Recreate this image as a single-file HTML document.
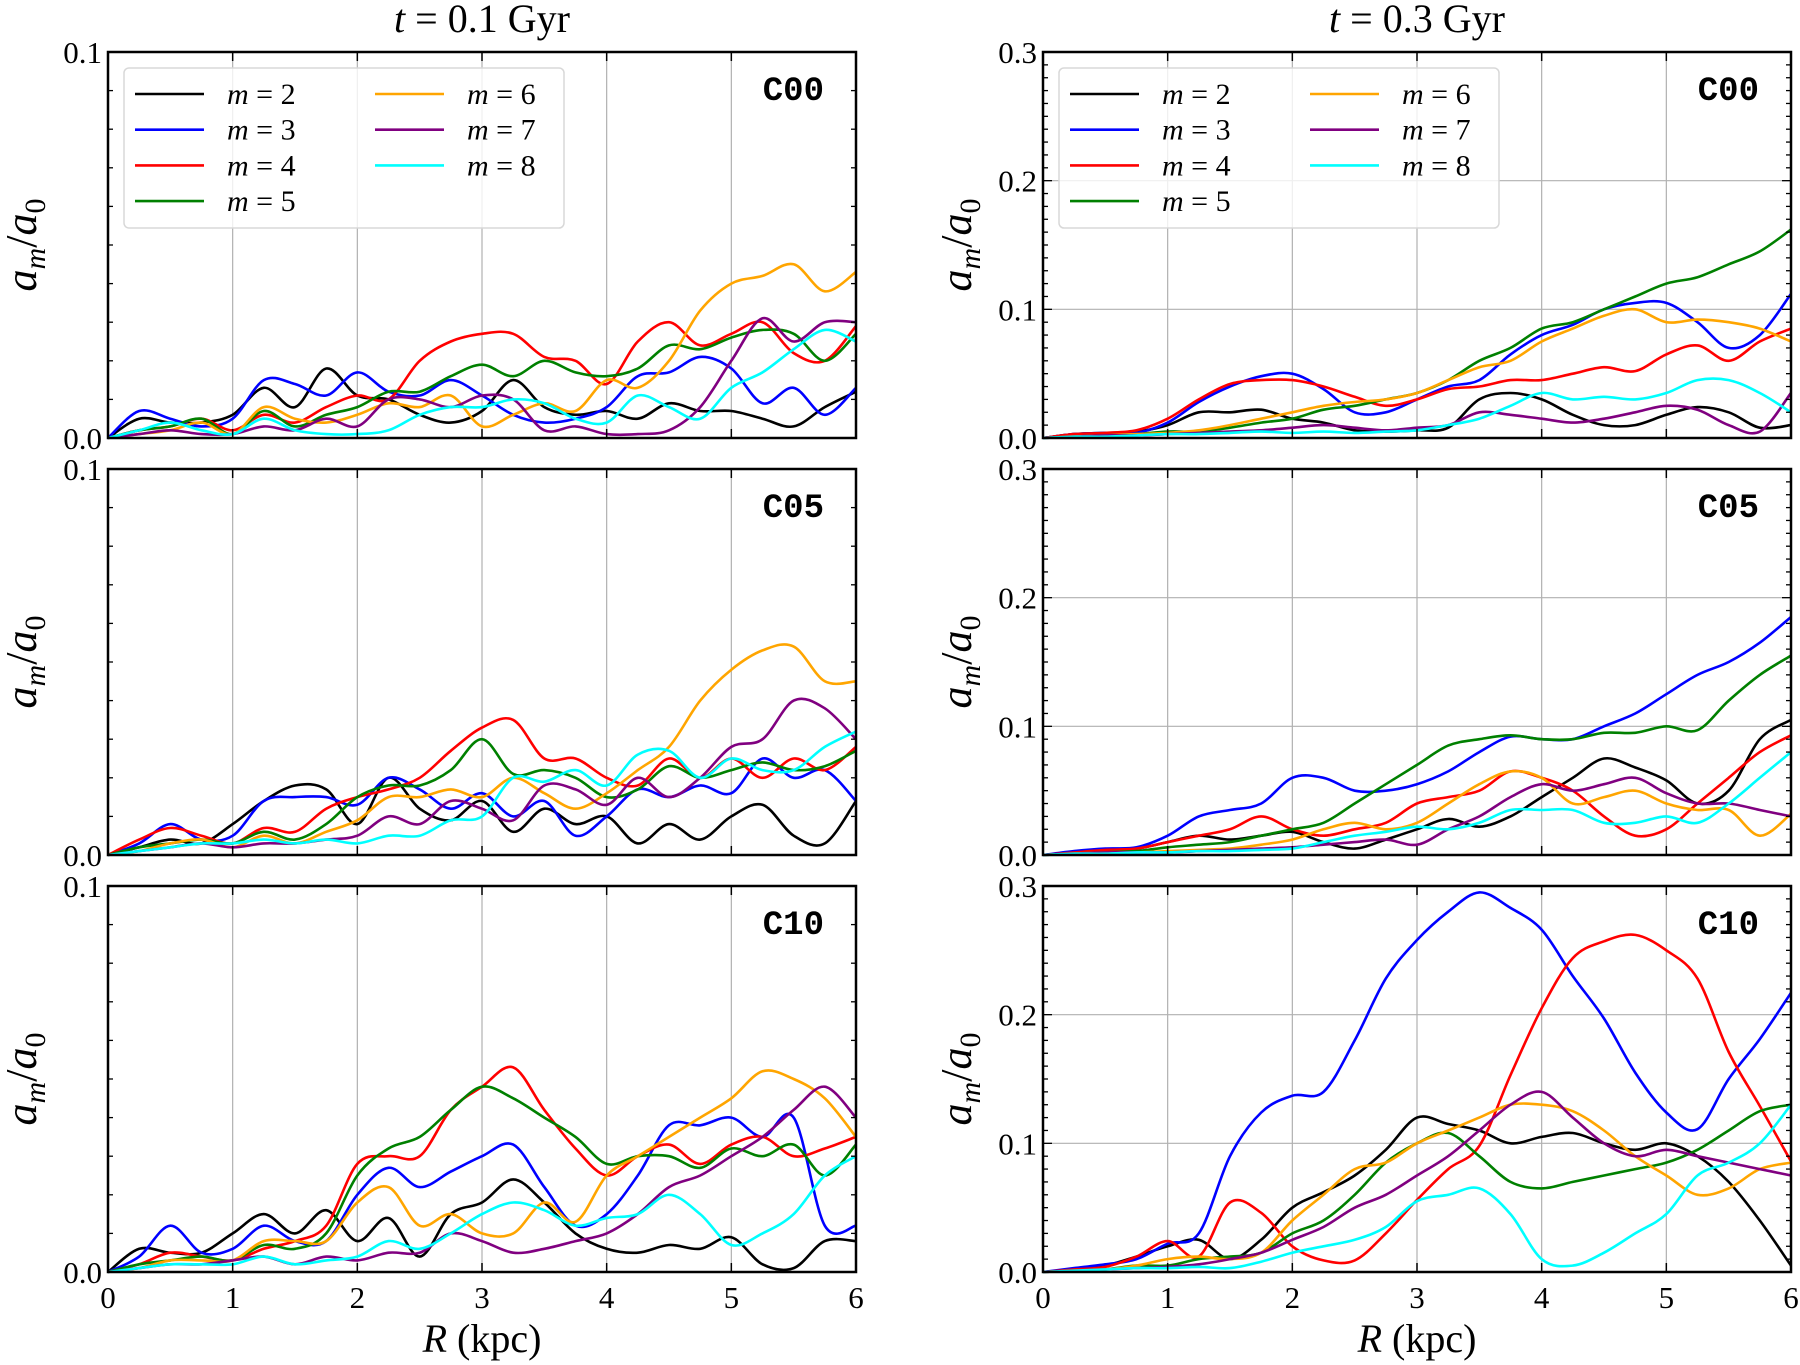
<!DOCTYPE html>
<html><head><meta charset="utf-8"><style>
html,body{margin:0;padding:0;background:#fff}
svg{display:block}
text{font-family:"Liberation Serif",serif}
</style></head><body>
<svg id="fig" width="1800" height="1365" viewBox="0 0 1800 1365" xmlns="http://www.w3.org/2000/svg"></svg>
<script>
const xs = [0,0.25,0.5,0.75,1,1.25,1.5,1.75,2,2.25,2.5,2.75,3,3.25,3.5,3.75,4,4.25,4.5,4.75,5,5.25,5.5,5.75,6];
const modes = ["2","3","4","5","6","7","8"];
const colors = ["#000000","#0000ff","#ff0000","#008000","#ffa500","#800080","#00ffff"];
const panelLabels = ["C00","C05","C10"];
const times = ["0.1","0.3"];
const ymaxLeft = 0.1, ymaxRight = 0.3;
const leftYTicks = ["0.0","0.1"];
const rightYTicks = ["0.0","0.1","0.2","0.3"];
const xTicks = [0,1,2,3,4,5,6];

const L1 = [
[0,0.005,0.004,0.004,0.006,0.013,0.008,0.018,0.011,0.01,0.006,0.004,0.007,0.015,0.008,0.006,0.007,0.005,0.009,0.007,0.007,0.005,0.003,0.008,0.012],
[0,0.007,0.005,0.003,0.005,0.015,0.014,0.011,0.017,0.012,0.011,0.015,0.011,0.006,0.004,0.005,0.008,0.016,0.017,0.021,0.018,0.009,0.013,0.006,0.013],
[0,0.002,0.003,0.005,0.002,0.006,0.004,0.008,0.011,0.01,0.02,0.025,0.027,0.027,0.021,0.02,0.014,0.025,0.03,0.024,0.027,0.03,0.022,0.02,0.029],
[0,0.002,0.003,0.005,0.001,0.007,0.003,0.006,0.008,0.012,0.012,0.016,0.019,0.016,0.02,0.017,0.016,0.018,0.024,0.023,0.026,0.028,0.027,0.02,0.027],
[0,0.001,0.002,0.004,0.001,0.008,0.005,0.004,0.006,0.009,0.008,0.011,0.003,0.006,0.009,0.007,0.015,0.013,0.02,0.033,0.04,0.042,0.045,0.038,0.043],
[0,0.001,0.002,0.001,0.001,0.003,0.002,0.005,0.003,0.01,0.01,0.008,0.011,0.01,0.002,0.003,0.001,0.001,0.002,0.008,0.02,0.031,0.025,0.03,0.03],
[0,0.002,0.004,0.002,0.001,0.005,0.002,0.001,0.001,0.002,0.006,0.008,0.008,0.01,0.009,0.005,0.004,0.011,0.008,0.005,0.013,0.017,0.023,0.028,0.025]];
const L2 = [
[0,0.002,0.004,0.003,0.008,0.014,0.018,0.017,0.008,0.02,0.012,0.009,0.014,0.006,0.012,0.008,0.01,0.003,0.008,0.004,0.01,0.013,0.005,0.003,0.014],
[0,0.003,0.008,0.004,0.005,0.014,0.015,0.015,0.013,0.02,0.017,0.012,0.016,0.01,0.014,0.005,0.01,0.017,0.015,0.018,0.016,0.025,0.02,0.022,0.014],
[0,0.004,0.007,0.005,0.003,0.007,0.006,0.012,0.015,0.017,0.02,0.027,0.033,0.035,0.025,0.025,0.02,0.018,0.025,0.02,0.025,0.02,0.025,0.022,0.028],
[0,0.002,0.003,0.004,0.003,0.006,0.004,0.008,0.015,0.018,0.018,0.022,0.03,0.021,0.022,0.02,0.015,0.017,0.023,0.02,0.022,0.024,0.022,0.023,0.027],
[0,0.001,0.003,0.004,0.002,0.005,0.003,0.006,0.009,0.015,0.015,0.017,0.015,0.02,0.016,0.012,0.016,0.022,0.028,0.04,0.048,0.053,0.054,0.045,0.045],
[0,0.001,0.002,0.003,0.002,0.003,0.003,0.004,0.005,0.01,0.008,0.014,0.012,0.009,0.018,0.017,0.013,0.02,0.015,0.02,0.028,0.03,0.04,0.038,0.03],
[0,0.001,0.002,0.003,0.003,0.004,0.003,0.004,0.003,0.005,0.005,0.009,0.01,0.02,0.019,0.022,0.018,0.026,0.027,0.02,0.025,0.022,0.022,0.028,0.032]];
const L3 = [
[0,0.006,0.005,0.005,0.01,0.015,0.01,0.016,0.008,0.014,0.004,0.015,0.018,0.024,0.018,0.01,0.006,0.005,0.007,0.006,0.009,0.002,0.001,0.008,0.008],
[0,0.004,0.012,0.005,0.006,0.012,0.008,0.008,0.02,0.027,0.022,0.026,0.03,0.033,0.022,0.012,0.015,0.025,0.038,0.038,0.04,0.035,0.04,0.012,0.012],
[0,0.002,0.005,0.004,0.003,0.006,0.008,0.012,0.028,0.03,0.03,0.042,0.048,0.053,0.042,0.032,0.025,0.03,0.033,0.028,0.033,0.035,0.03,0.032,0.035],
[0,0.002,0.003,0.004,0.003,0.007,0.006,0.01,0.025,0.032,0.035,0.042,0.048,0.045,0.04,0.035,0.028,0.03,0.03,0.027,0.032,0.03,0.033,0.025,0.033],
[0,0.001,0.003,0.003,0.003,0.008,0.008,0.008,0.018,0.022,0.012,0.015,0.01,0.01,0.018,0.013,0.025,0.03,0.035,0.04,0.045,0.052,0.05,0.045,0.035],
[0,0.001,0.002,0.002,0.003,0.004,0.002,0.004,0.003,0.005,0.005,0.01,0.008,0.005,0.006,0.008,0.01,0.015,0.022,0.025,0.03,0.035,0.042,0.048,0.04],
[0,0.001,0.002,0.002,0.002,0.004,0.002,0.003,0.004,0.008,0.006,0.01,0.015,0.018,0.016,0.012,0.014,0.015,0.02,0.015,0.007,0.01,0.015,0.025,0.03]];
const R1 = [
[0,0.003,0.004,0.005,0.01,0.02,0.02,0.022,0.015,0.012,0.006,0.005,0.006,0.008,0.03,0.035,0.03,0.018,0.01,0.01,0.018,0.024,0.02,0.008,0.01],
[0,0.003,0.004,0.004,0.012,0.028,0.04,0.048,0.05,0.038,0.02,0.02,0.03,0.04,0.045,0.065,0.08,0.088,0.1,0.105,0.105,0.09,0.07,0.08,0.112],
[0,0.003,0.004,0.006,0.015,0.03,0.042,0.045,0.045,0.04,0.032,0.025,0.03,0.038,0.04,0.045,0.045,0.05,0.055,0.052,0.065,0.072,0.06,0.075,0.085],
[0,0.001,0.002,0.003,0.005,0.005,0.008,0.012,0.015,0.022,0.025,0.03,0.035,0.045,0.06,0.07,0.085,0.09,0.1,0.11,0.12,0.125,0.135,0.145,0.162],
[0,0.001,0.002,0.003,0.004,0.006,0.01,0.015,0.02,0.025,0.028,0.03,0.035,0.045,0.055,0.06,0.075,0.085,0.095,0.1,0.09,0.092,0.09,0.085,0.075],
[0,0.001,0.002,0.002,0.003,0.004,0.005,0.006,0.008,0.01,0.008,0.006,0.008,0.01,0.02,0.018,0.015,0.012,0.015,0.02,0.025,0.022,0.01,0.005,0.035],
[0,0.001,0.001,0.002,0.003,0.003,0.004,0.005,0.004,0.005,0.004,0.005,0.006,0.01,0.015,0.025,0.035,0.03,0.032,0.03,0.035,0.045,0.045,0.035,0.02]];
const R2 = [
[0,0.002,0.004,0.005,0.01,0.015,0.012,0.015,0.018,0.01,0.005,0.012,0.02,0.028,0.022,0.03,0.045,0.06,0.075,0.068,0.058,0.04,0.05,0.09,0.105],
[0,0.003,0.005,0.006,0.015,0.03,0.035,0.04,0.06,0.06,0.05,0.05,0.055,0.065,0.08,0.092,0.09,0.09,0.1,0.11,0.125,0.14,0.15,0.165,0.185],
[0,0.002,0.004,0.005,0.01,0.015,0.02,0.03,0.02,0.015,0.02,0.025,0.04,0.045,0.05,0.065,0.06,0.05,0.03,0.015,0.02,0.04,0.06,0.08,0.093],
[0,0.001,0.002,0.003,0.006,0.008,0.01,0.015,0.02,0.025,0.04,0.055,0.07,0.085,0.09,0.093,0.09,0.09,0.095,0.095,0.1,0.097,0.12,0.14,0.155],
[0,0.001,0.002,0.002,0.003,0.004,0.005,0.008,0.012,0.02,0.025,0.02,0.025,0.04,0.055,0.065,0.06,0.04,0.045,0.05,0.04,0.035,0.035,0.015,0.032],
[0,0.001,0.002,0.002,0.002,0.003,0.004,0.005,0.006,0.008,0.01,0.012,0.008,0.02,0.03,0.045,0.055,0.05,0.055,0.06,0.048,0.04,0.04,0.035,0.03],
[0,0.001,0.001,0.002,0.002,0.003,0.003,0.004,0.005,0.01,0.015,0.018,0.022,0.02,0.025,0.035,0.035,0.035,0.025,0.025,0.03,0.025,0.04,0.06,0.08]];
const R3 = [
[0,0.002,0.005,0.012,0.02,0.025,0.01,0.025,0.05,0.062,0.075,0.095,0.12,0.115,0.11,0.1,0.105,0.108,0.1,0.095,0.1,0.09,0.07,0.04,0.005],
[0,0.003,0.006,0.01,0.022,0.03,0.09,0.124,0.137,0.14,0.18,0.228,0.258,0.28,0.295,0.283,0.266,0.23,0.197,0.155,0.124,0.111,0.15,0.181,0.217],
[0,0.002,0.004,0.012,0.024,0.012,0.054,0.046,0.02,0.009,0.009,0.03,0.056,0.08,0.098,0.153,0.205,0.244,0.257,0.262,0.25,0.228,0.171,0.129,0.086],
[0,0.001,0.002,0.005,0.005,0.01,0.012,0.015,0.03,0.04,0.06,0.085,0.1,0.108,0.09,0.07,0.065,0.07,0.075,0.08,0.085,0.095,0.11,0.125,0.13],
[0,0.001,0.002,0.005,0.01,0.012,0.01,0.015,0.04,0.06,0.08,0.085,0.1,0.11,0.12,0.13,0.13,0.125,0.11,0.09,0.075,0.06,0.065,0.08,0.085],
[0,0.001,0.002,0.003,0.004,0.006,0.01,0.015,0.025,0.035,0.05,0.06,0.075,0.09,0.11,0.13,0.14,0.12,0.1,0.09,0.095,0.09,0.085,0.08,0.075],
[0,0.001,0.002,0.003,0.003,0.004,0.003,0.008,0.015,0.02,0.025,0.035,0.055,0.06,0.065,0.045,0.01,0.005,0.015,0.03,0.045,0.075,0.085,0.1,0.13]];

const NS = "http://www.w3.org/2000/svg";
const svg = document.getElementById('fig');
function mk(tag, attrs, parent){ const e=document.createElementNS(NS,tag); for(const k in attrs) e.setAttribute(k,attrs[k]); (parent||svg).appendChild(e); return e; }

const colX = [108, 1043], rowY = [52, 469, 886], PW = 748, PH = 386;
const panels = [[L1,L2,L3],[R1,R2,R3]];
const ymaxes = [ymaxLeft, ymaxRight];
const yTickSets = [leftYTicks, rightYTicks];

function smoothPath(pts){
  let d = `M${pts[0][0].toFixed(1)},${pts[0][1].toFixed(1)}`;
  for(let i=0;i<pts.length-1;i++){
    const p0=pts[Math.max(0,i-1)], p1=pts[i], p2=pts[i+1], p3=pts[Math.min(pts.length-1,i+2)];
    const c1=[p1[0]+(p2[0]-p0[0])/6, p1[1]+(p2[1]-p0[1])/6];
    const c2=[p2[0]-(p3[0]-p1[0])/6, p2[1]-(p3[1]-p1[1])/6];
    d+=` C${c1[0].toFixed(1)},${c1[1].toFixed(1)} ${c2[0].toFixed(1)},${c2[1].toFixed(1)} ${p2[0].toFixed(1)},${p2[1].toFixed(1)}`;
  }
  return d;
}

for(let c=0;c<2;c++){
  const ymax = ymaxes[c];
  const t = mk('text',{x:colX[c]+PW/2,y:32,'text-anchor':'middle','font-size':40});
  
  
  t.innerHTML = '<tspan font-style="italic">t</tspan> = '+times[c]+' Gyr';
  for(let r=0;r<3;r++){
    const x0=colX[c], y0=rowY[r];
    const sx = v => x0 + v/6*PW;
    const sy = v => y0 + PH - v/ymax*PH;
    const g = mk('g',{});
    
    
    for(const xv of xTicks.slice(1,-1)) mk('line',{x1:sx(xv),x2:sx(xv),y1:y0,y2:y0+PH,stroke:'#b0b0b0','stroke-width':1.2},g);
    const nT = yTickSets[c].length;
    for(let i=1;i<nT-1;i++){ const v=i*0.1; mk('line',{x1:x0,x2:x0+PW,y1:sy(v),y2:sy(v),stroke:'#b0b0b0','stroke-width':1.2},g); }
    const data = panels[c][r];
    for(let s=0;s<data.length;s++){
      const pts = xs.map((xv,i)=>[sx(xv), sy(data[s][i])]);
      const p = mk('path',{d:smoothPath(pts),fill:'none',stroke:colors[s],'stroke-width':2.6,'stroke-linejoin':'round'},g);
      
      
    }
    mk('rect',{x:x0,y:y0,width:PW,height:PH,fill:'none',stroke:'#000','stroke-width':2.5},g);
    for(const xv of xTicks){ mk('line',{x1:sx(xv),x2:sx(xv),y1:y0+PH,y2:y0+PH-9,stroke:'#000','stroke-width':1.5},g); mk('line',{x1:sx(xv),x2:sx(xv),y1:y0,y2:y0+9,stroke:'#000','stroke-width':1.5},g); }
    const nMinor = Math.round(ymax/0.01);
    for(let k=0;k<=nMinor;k++){ const v=k*0.01; const major=(k%10===0); const L=major?9:5;
      mk('line',{x1:x0,x2:x0+L,y1:sy(v),y2:sy(v),stroke:'#000','stroke-width':1.3},g);
      mk('line',{x1:x0+PW,x2:x0+PW-L,y1:sy(v),y2:sy(v),stroke:'#000','stroke-width':1.3},g); }
    yTickSets[c].forEach((lab,i)=>{ const tt=mk('text',{x:x0-6,y:sy(i*0.1)+11,'text-anchor':'end','font-size':31},g); tt.textContent=lab;
        });
    if(r===2){ xTicks.forEach(xv=>{ const tt=mk('text',{x:sx(xv),y:y0+PH+36,'text-anchor':'middle','font-size':31},g); tt.textContent=xv;
        }); }
    const pl = mk('text',{x:x0+PW-32,y:y0+48,'text-anchor':'end','font-size':34,'font-weight':'bold'},g);
    pl.setAttribute('style','font-family:"Liberation Mono",monospace');
    pl.textContent = panelLabels[r];
    
    
    const yl = mk('text',{x:0,y:0,'text-anchor':'middle','font-size':44,'font-style':'italic',transform:`translate(${x0-72},${y0+PH/2}) rotate(-90)`},g);
    yl.innerHTML = 'a<tspan font-size="30" dy="9">m</tspan><tspan dy="-9" font-style="normal">/</tspan>a<tspan font-size="30" dy="9" font-style="normal">0</tspan>';
    
    
    if(r===0){
      const lg = mk('g',{});
      
      
      const lx = x0+16;
      mk('rect',{x:lx,y:68,width:440,height:160,rx:5,fill:'#fff','fill-opacity':0.8,stroke:'#d8d8d8','stroke-width':1.5},lg);
      modes.forEach((m,i)=>{
        const col = i<4?0:1, row = i<4?i:i-4;
        const ly = 94 + row*35.7;
        const ox = lx + (col===0?11:251);
        const e = mk('g',{},lg);
        
        
        mk('line',{x1:ox,x2:ox+69,y1:ly,y2:ly,stroke:colors[i],'stroke-width':2.6},e);
        const tx = mk('text',{x:ox+92,y:ly+10,'font-size':30},e);
        tx.innerHTML = '<tspan font-style="italic">m</tspan> = '+m;
      });
    }
  }
  const xl = mk('text',{x:colX[c]+PW/2,y:1352,'text-anchor':'middle','font-size':40});
  xl.innerHTML = '<tspan font-style="italic">R</tspan> (kpc)';
  
  
}
</script>
</body></html>
